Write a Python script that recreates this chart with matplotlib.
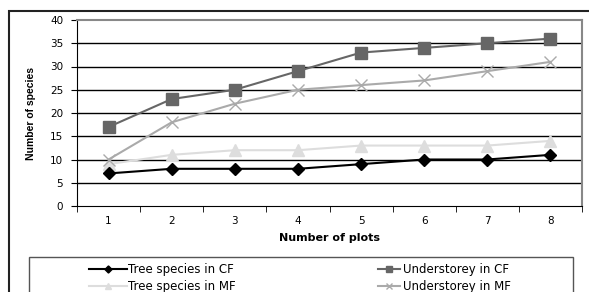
import matplotlib
matplotlib.use("Agg")
import matplotlib.pyplot as plt
from matplotlib.patches import Rectangle

plots = [1, 2, 3, 4, 5, 6, 7, 8]
tree_cf = [7, 8, 8, 8, 9, 10, 10, 11]
under_cf = [17, 23, 25, 29, 33, 34, 35, 36]
tree_mf = [9, 11, 12, 12, 13, 13, 13, 14]
under_mf = [10, 18, 22, 25, 26, 27, 29, 31]
yticks = [0, 5, 10, 15, 20, 25, 30, 35, 40]

plt.rcParams['font.family'] = ['DejaVu Sans']

W, H = 589, 292
fig = plt.figure(figsize=(W/100, H/100), dpi=100)
ax = fig.add_axes([77/W, 1-206/H, (582-77)/W, (206-20)/H])

l1, = ax.plot(plots, tree_cf, color='black', marker='D', ms=6, lw=1.5, label='Tree species in CF', zorder=5)
l2, = ax.plot(plots, tree_mf, color='#dddddd', marker='^', ms=8, lw=1.5, label='Tree species in MF', zorder=3)
l3, = ax.plot(plots, under_cf, color='#666666', marker='s', ms=8, lw=1.5, label='Understorey in CF', zorder=4)
l4, = ax.plot(plots, under_mf, color='#aaaaaa', marker='x', ms=8, mew=1, lw=1.5, label='Understorey in MF', zorder=3)

ax.set_xlim(0.5, 8.5)
ax.set_ylim(0, 40)
ax.set_yticks(yticks)
ax.set_xticks(plots)
ax.set_xticks([p + 0.5 for p in [0] + plots], minor=True)
ax.tick_params(axis='x', which='major', length=0, labelsize=7.5, pad=7.5)
ax.tick_params(axis='x', which='minor', length=4, direction='out', color='black')
ax.tick_params(axis='y', length=4, direction='out', labelsize=7.5, pad=6)
for y in yticks[1:-1]:
    ax.axhline(y, color='black', lw=1, zorder=1)
ax.spines['top'].set_color('#888888')
ax.spines['right'].set_color('#888888')
ax.spines['top'].set_linewidth(1.5)
ax.spines['right'].set_linewidth(1.5)
ax.spines['left'].set_color('black')
ax.spines['bottom'].set_color('black')

ax.set_xlabel('Number of plots', fontsize=8, fontweight='bold', labelpad=5)
ax.set_ylabel('Number of species', fontsize=7.5, fontweight='bold', labelpad=10,
              family='Liberation Sans')

# outer border
fig.patches.append(Rectangle((9/W, -0.1), 1.2, 1-11/H+0.1, transform=fig.transFigure,
                             fill=False, ec='#222222', lw=1.5))
# legend box
fig.patches.append(Rectangle((29/W, -0.1), (573-29)/W, 1-257/H+0.1, transform=fig.transFigure,
                             fill=False, ec='#555555', lw=1))

leg1 = fig.legend([l1, l2], [l1.get_label(), l2.get_label()], ncol=1, frameon=False, fontsize=8.5,
                  loc='upper left', bbox_to_anchor=(84/W, 1-258/H), borderaxespad=0,
                  handlelength=3.2, labelspacing=0.35, handletextpad=0.1, markerscale=0.6)
leg2 = fig.legend([l3, l4], [l3.get_label(), l4.get_label()], ncol=1, frameon=False, fontsize=8.5,
                  loc='upper left', bbox_to_anchor=(373/W, 1-258/H), borderaxespad=0,
                  handlelength=1.9, labelspacing=0.35, handletextpad=0.2, markerscale=0.6)

fig.savefig('out.png', dpi=100)
